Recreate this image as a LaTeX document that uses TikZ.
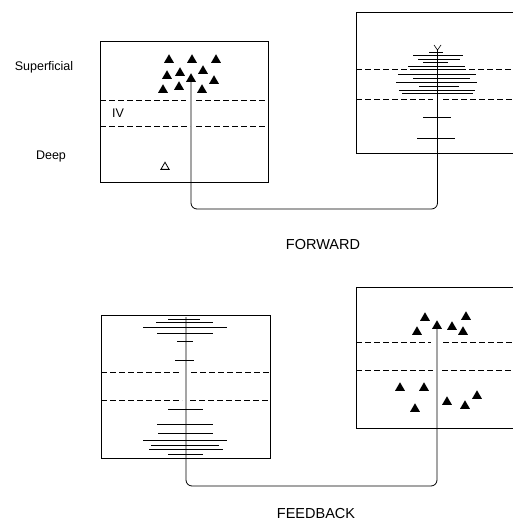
\documentclass[tikz,border=0pt]{standalone}
\usepackage{fontspec}
\setmainfont{Liberation Sans}
\usetikzlibrary{shapes.geometric}
\begin{document}
\begin{tikzpicture}[x=1pt,y=-1pt,
  box/.style={line width=0.9pt},
  layer/.style={line width=0.8pt, dash pattern=on 6pt off 3pt},
  dend/.style={line width=0.6pt},
  axon/.style={line width=0.8pt, rounded corners=6pt},
  tri/.style={regular polygon, regular polygon sides=3, fill=black, inner sep=0pt, minimum size=11.5pt},
  otri/.style={regular polygon, regular polygon sides=3, draw=black, line width=0.8pt, inner sep=0pt, minimum size=9.5pt},
  lab/.style={font=\fontsize{12.5}{14}\selectfont, inner sep=0pt},
  ttl/.style={font=\fontsize{14.5}{16}\selectfont, inner sep=0pt}]
\useasboundingbox (0,0) rectangle (512,524);

% ---------- top-left box (FORWARD source) ----------
\draw[box] (100,41) rectangle (268,182);
\draw[layer] (100,100) -- (186,100) (196,100) -- (268,100);
\draw[layer] (100,126) -- (190,126) (196,126) -- (268,126);
\node[tri] (a1) at (169,60) {};
\node[tri] (a2) at (192,60) {};
\node[tri] (a3) at (216,60) {};
\node[tri] (a4) at (167,76) {};
\node[tri] (a5) at (180,73) {};
\node[tri] (a6) at (203,71) {};
\node[tri] (a7) at (191,79) {};
\node[tri] (a8) at (214,81) {};
\node[tri] (a9) at (163,90) {};
\node[tri] (a10) at (179,87) {};
\node[tri] (a11) at (202,90) {};
\node[otri] (a12) at (165,167) {};

% ---------- top-right box (FORWARD target) ----------
\draw[box] (516,12) -- (356,12) -- (356,153) -- (516,153);
\draw[layer] (356,69) -- (432,69) (442,69) -- (516,69);
\draw[layer] (356,99) -- (433,99) (443,99) -- (516,99);
\foreach \yy/\xa/\xb in {52/429/443, 55/413/463, 59/418/460, 62/423/448, 66/408/465,
  69.5/415/460, 74/398/476, 78/413/470, 82/396/477, 86/419/459, 90/399/475,
  93/402/473, 117/423/451, 138/417/455}
  \draw[dend] (\xa,\yy) -- (\xb,\yy);
\coordinate (ytop) at (437.5,50);
\draw[dend] (ytop) -- (434,45) (ytop) -- (441,45);

% FORWARD connector
\coordinate (f1) at (191,209);
\coordinate (f2) at (437.5,209);
\draw[axon] (a7.south) -- (f1) -- (f2) -- (ytop);
\node[ttl] (fwd) at (323,245) {FORWARD};

% ---------- bottom-left box (FEEDBACK source) ----------
\draw[box] (101,315) rectangle (270,458);
\draw[layer] (101,372) -- (179,372) (191,372) -- (270,372);
\draw[layer] (101,400) -- (182,400) (190,400) -- (270,400);
\foreach \yy/\xa/\xb in {319/168/200, 322/156/213, 327/143/227, 333/157/213,
  341/177/193, 360/175/194, 409/168/203, 424/157/213, 433/158/213,
  440/143/227, 445/151/219, 449/149/223, 454/168/203}
  \draw[dend] (\xa,\yy) -- (\xb,\yy);
\coordinate (btop) at (186,317);

% ---------- bottom-right box (FEEDBACK target) ----------
\draw[box] (516,287) -- (356,287) -- (356,428) -- (516,428);
\draw[layer] (356,342) -- (431,342) (443,342) -- (516,342);
\draw[layer] (356,370) -- (433,370) (442,370) -- (516,370);
\node[tri] (b1) at (425,318) {};
\node[tri] (b2) at (417,332) {};
\node[tri] (b3) at (437,326) {};
\node[tri] (b4) at (452,327) {};
\node[tri] (b5) at (466,317) {};
\node[tri] (b6) at (463,332) {};
\node[tri] (b7) at (400,388) {};
\node[tri] (b8) at (424,388) {};
\node[tri] (b9) at (415,409) {};
\node[tri] (b10) at (447,402) {};
\node[tri] (b11) at (465,406) {};
\node[tri] (b12) at (477,396) {};

% FEEDBACK connector
\coordinate (g1) at (186,486);
\coordinate (g2) at (437,486);
\draw[axon] (btop) -- (g1) -- (g2) -- (b3.south);
\node[ttl] (fbk) at (316,514) {FEEDBACK};

% ---------- labels ----------
\node[lab] (sup) at (44,67) {Superficial};
\node[lab] (deep) at (51,156) {Deep};
\node[lab] (iv) at (118,113) {IV};
\end{tikzpicture}
\end{document}
